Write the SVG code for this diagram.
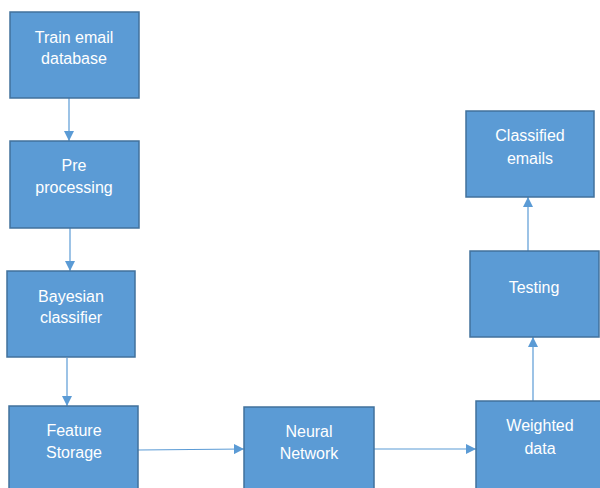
<svg xmlns="http://www.w3.org/2000/svg" width="600" height="488" viewBox="0 0 600 488">
<defs>
<style>
.box{fill:#5B9BD5;stroke:#41719C;stroke-width:1.5}
.t{font-family:"Liberation Sans",Arial,sans-serif;font-size:16px;fill:#ffffff;text-anchor:middle}
.c{stroke:#5B9BD5;stroke-width:1.2;fill:none;marker-end:url(#ah)}
</style>
<marker id="ah" viewBox="0 0 10 10" refX="10" refY="5" markerWidth="10" markerHeight="10" markerUnits="userSpaceOnUse" orient="auto"><path d="M0,0 L10,5 L0,10 z" fill="#5B9BD5"/></marker>
</defs>
<rect width="600" height="488" fill="#ffffff"/>
<g id="connectors">
<line class="c" x1="69" y1="98" x2="69" y2="141"/>
<line class="c" x1="70" y1="228" x2="70" y2="271"/>
<line class="c" x1="67" y1="358" x2="67" y2="406"/>
<line class="c" x1="138" y1="450" x2="244" y2="449"/>
<line class="c" x1="374" y1="449" x2="476" y2="449"/>
<line class="c" x1="533" y1="401" x2="533" y2="337"/>
<line class="c" x1="528" y1="251" x2="528" y2="197"/>
</g>
<g id="train"><rect class="box" x="10" y="12" width="129" height="86"/><text class="t" x="74" y="43">Train email</text><text class="t" x="74" y="64">database</text></g>
<g id="pre"><rect class="box" x="10" y="141" width="129" height="87"/><text class="t" x="74" y="171">Pre</text><text class="t" x="74" y="193">processing</text></g>
<g id="bayes"><rect class="box" x="7" y="271" width="128" height="86"/><text class="t" x="71" y="302">Bayesian</text><text class="t" x="71" y="323">classifier</text></g>
<g id="feature"><rect class="box" x="9" y="406" width="129" height="90"/><text class="t" x="74" y="436">Feature</text><text class="t" x="74" y="458">Storage</text></g>
<g id="neural"><rect class="box" x="244" y="407" width="130" height="90"/><text class="t" x="309" y="437">Neural</text><text class="t" x="309" y="459">Network</text></g>
<g id="weighted"><rect class="box" x="476" y="401" width="130" height="95"/><text class="t" x="540" y="431">Weighted</text><text class="t" x="540" y="454">data</text></g>
<g id="testing"><rect class="box" x="470" y="251" width="129" height="86"/><text class="t" x="534" y="293">Testing</text></g>
<g id="classified"><rect class="box" x="466" y="111" width="128" height="86"/><text class="t" x="530" y="141">Classified</text><text class="t" x="530" y="164">emails</text></g>
</svg>
